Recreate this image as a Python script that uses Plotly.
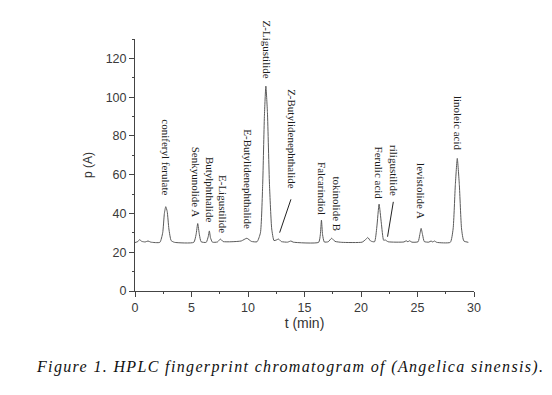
import plotly.graph_objects as go

# Chromatogram trace (time in min, signal)
time_min = [0, 0.25, 0.4, 0.6, 0.9, 1.15, 1.4, 2.2, 2.45, 2.6, 2.72, 2.85, 3.0, 3.2, 3.5,
            5.2, 5.4, 5.55, 5.7, 5.85, 6.3, 6.48, 6.58, 6.68, 6.85, 7.3, 7.55, 7.8, 8.5,
            9.4, 9.9, 10.3, 10.8, 11.1, 11.3, 11.45, 11.58, 11.72, 11.9, 12.1, 12.3,
            12.5, 12.7, 12.95, 13.5, 13.8, 14.0, 16.25, 16.4, 16.5, 16.6, 16.75, 17.1,
            17.4, 17.7, 18.3, 20.1, 20.4, 20.6, 20.85, 21.2, 21.4, 21.6, 21.8, 22.0,
            22.15, 22.4, 23.8, 24.0, 24.15, 24.3, 24.5, 25.05, 25.2, 25.32, 25.45, 25.6,
            26.0, 26.2, 26.35, 26.5, 26.7, 27.9, 28.15, 28.35, 28.52, 28.7, 28.9, 29.1, 29.5]
signal = [25.0, 25.5, 26.5, 25.6, 25.3, 25.8, 25.2, 25.1, 30, 40, 43.5, 41, 32, 26, 25.1,
          25.1, 29, 34.8, 29, 25.4, 25.1, 28, 31, 27.5, 25.2, 25.3, 26.8, 25.5, 25.4,
          25.8, 27.2, 25.6, 25.4, 30, 55, 90, 105.7, 92, 55, 32, 26,
          26.3, 26.8, 25.5, 25.2, 25.8, 25.2, 25.1, 29, 36.6, 29, 25.3, 25.4,
          27.2, 25.6, 25.1, 25.2, 26.5, 27.6, 25.8, 25.4, 33, 44.8, 35, 26.2,
          26.3, 25.4, 25.3, 25.9, 25.4, 25.9, 25.2, 25.4, 29, 32.3, 29, 25.5,
          25.2, 25.8, 25.3, 25.8, 25.1, 25.1, 32, 55, 68.4, 55, 32, 25.8, 25.1]

# Peak labels
label_names = ["coniferyl ferulate", "Senkyunolide A", "Butylphthalide", "E-Ligustilide",
               "E-Butylidenephthalide", "Z-Ligustilide", "Z-Butylidenephthalide",
               "Falcarindiol", "tokinolide B", "Ferulic acid", "riligustilide",
               "levistolide A", "linoleic acid"]
label_t = [2.74, 5.4, 6.7, 7.8, 10.0, 11.65, 13.9, 16.5, 17.85, 21.55, 22.9, 25.3, 28.6]
label_y = [69, 56.4, 52.3, 44.8, 57.6, 124.7, 78.3, 52.9, 44.8, 60.8, 62, 51.6, 86.6]

# Pointer lines (from label end to peak)
pointer_from_t = [13.8, 22.86]
pointer_from_y = [47.3, 46]
pointer_to_t = [12.8, 22.35]
pointer_to_y = [30.1, 28]

x_ticks = [0, 5, 10, 15, 20, 25, 30]
y_ticks = [0, 20, 40, 60, 80, 100, 120]

fig = go.Figure()
fig.add_trace(go.Scatter(x=time_min, y=signal, mode="lines",
                         line=dict(color="#5a5a5a", width=1, shape="spline", smoothing=0.5),
                         hoverinfo="skip", showlegend=False))

for i in range(len(pointer_from_t)):
    fig.add_trace(go.Scatter(x=[pointer_from_t[i], pointer_to_t[i]],
                             y=[pointer_from_y[i], pointer_to_y[i]], mode="lines",
                             line=dict(color="#222222", width=1),
                             hoverinfo="skip", showlegend=False))

for name, t, y in zip(label_names, label_t, label_y):
    fig.add_annotation(x=t, y=y, text=name, showarrow=False, textangle=90,
                       font=dict(family="Liberation Serif", size=11, color="#1a1a1a"))

fig.add_annotation(xref="paper", yref="paper", x=-0.298, y=-0.30, xanchor="left",
                   yanchor="middle",
                   text='<span style="letter-spacing:1.35px"><i>Figure 1. HPLC fingerprint chromatogram of (Angelica sinensis).</i></span>',
                   showarrow=False,
                   font=dict(family="Liberation Serif", size=16, color="#111111"))

axis_common = dict(showline=True, linecolor="#444444", linewidth=1, ticks="outside",
                   ticklen=5, tickcolor="#444444", showgrid=False, zeroline=False,
                   tickfont=dict(family="Liberation Sans", size=12.5, color="#3a3a3a"))

fig.update_xaxes(range=[0, 30], tickvals=x_ticks,
                 minor=dict(ticks="outside", ticklen=2, dtick=2.5, tick0=0, tickcolor="#444444"),
                 title=dict(text="t (min)", font=dict(family="Liberation Sans", size=14, color="#333333"),
                            standoff=4),
                 **axis_common)
fig.update_yaxes(range=[0, 130], tickvals=y_ticks,
                 minor=dict(ticks="outside", ticklen=2, dtick=10, tick0=0, tickcolor="#444444"),
                 title=dict(text="p (A)", font=dict(family="Liberation Sans", size=12, color="#333333"),
                            standoff=10),
                 **axis_common)

fig.update_layout(width=552, height=395, margin=dict(l=127, r=86, t=31, b=112),
                  paper_bgcolor="white", plot_bgcolor="white")

fig.write_html("out.html")
